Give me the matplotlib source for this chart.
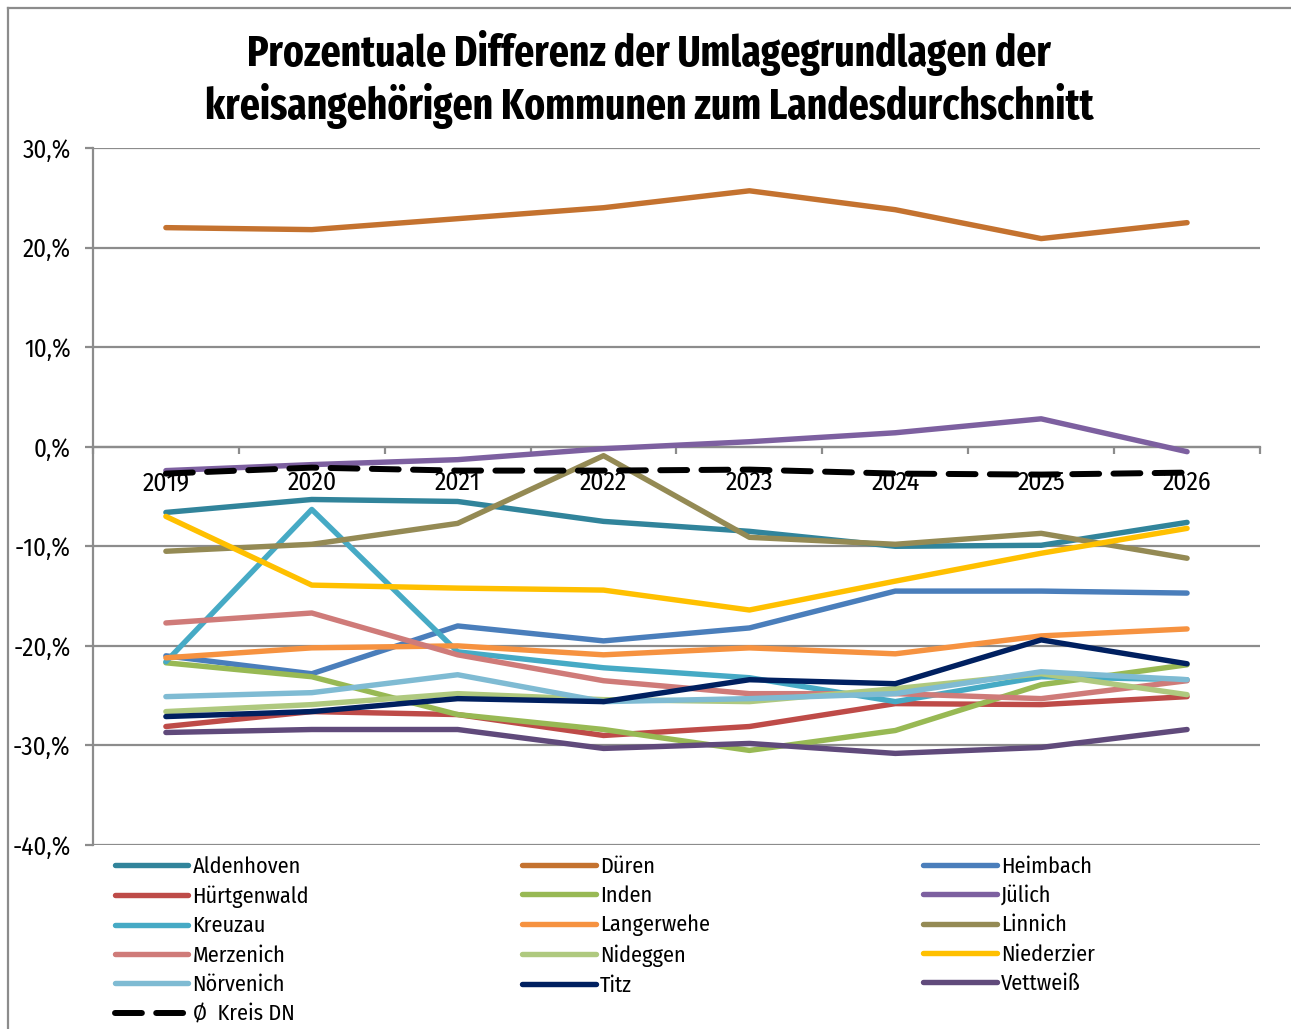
import numpy as np
import matplotlib
matplotlib.use("Agg")
import matplotlib.pyplot as plt
from matplotlib.lines import Line2D
from matplotlib.ticker import FuncFormatter
from matplotlib import font_manager as fm

# schmale Schrift suchen, sonst DejaVu
vorhanden = set(f.name for f in fm.fontManager.ttflist)
schrift = 'DejaVu Sans'
for kandidat in ['Fira Sans Condensed', 'Roboto Condensed', 'Archivo Narrow', 'Asap Condensed']:
    if kandidat in vorhanden:
        schrift = kandidat
        break
titelschrift = schrift
for kandidat in ['Fira Sans Extra Condensed', 'Fira Sans Condensed', 'Roboto Condensed']:
    if kandidat in vorhanden:
        titelschrift = kandidat
        break
plt.rcParams['font.family'] = [schrift, 'DejaVu Sans']

# Jahre
jahre = ['2019', '2020', '2021', '2022', '2023', '2024', '2025', '2026']

# Werte in Prozent
aldenhoven  = [-6.6, -5.3, -5.5, -7.5, -8.5, -10.0, -9.9, -7.6]
dueren      = [22.0, 21.8, 22.9, 24.0, 25.7, 23.8, 20.9, 22.5]
heimbach    = [-21.0, -22.8, -18.0, -19.5, -18.2, -14.5, -14.5, -14.7]
huertgenwald = [-28.1, -26.6, -26.9, -29.0, -28.1, -25.8, -25.9, -25.1]
inden       = [-21.7, -23.1, -26.9, -28.4, -30.5, -28.5, -23.9, -21.9]
juelich     = [-2.4, -1.8, -1.3, -0.2, 0.5, 1.4, 2.8, -0.5]
kreuzau     = [-21.6, -6.3, -20.6, -22.2, -23.2, -25.6, -23.1, -23.4]
langerwehe  = [-21.2, -20.2, -20.0, -20.9, -20.2, -20.8, -19.0, -18.3]
linnich     = [-10.5, -9.8, -7.7, -0.9, -9.1, -9.8, -8.7, -11.2]
merzenich   = [-17.7, -16.7, -20.9, -23.5, -24.8, -24.8, -25.3, -23.5]
nideggen    = [-26.6, -25.9, -24.8, -25.4, -25.6, -24.3, -22.8, -24.9]
niederzier  = [-7.0, -13.9, -14.2, -14.4, -16.4, -13.5, -10.7, -8.2]
noervenich  = [-25.1, -24.7, -22.9, -25.6, -25.3, -24.8, -22.6, -23.4]
titz        = [-27.1, -26.6, -25.3, -25.6, -23.4, -23.8, -19.4, -21.8]
vettweiss   = [-28.7, -28.4, -28.4, -30.3, -29.8, -30.8, -30.2, -28.4]
kreis_dn    = [-2.7, -2.1, -2.4, -2.4, -2.3, -2.7, -2.8, -2.6]

reihen = [
    ('Aldenhoven', aldenhoven, '#31849B'),
    ('Düren', dueren, '#C4722F'),
    ('Heimbach', heimbach, '#4A7EBB'),
    ('Hürtgenwald', huertgenwald, '#BE4B48'),
    ('Inden', inden, '#98B954'),
    ('Jülich', juelich, '#7D60A0'),
    ('Kreuzau', kreuzau, '#46AAC5'),
    ('Langerwehe', langerwehe, '#F69240'),
    ('Linnich', linnich, '#948A54'),
    ('Merzenich', merzenich, '#CF7B79'),
    ('Nideggen', nideggen, '#AFC97F'),
    ('Niederzier', niederzier, '#FFC000'),
    ('Nörvenich', noervenich, '#7FBBD3'),
    ('Titz', titz, '#002060'),
    ('Vettweiß', vettweiss, '#604A7B'),
]

fig = plt.figure(figsize=(12.91, 10.29), dpi=100)
ax = fig.add_axes([0.072, 0.1788, 0.904, 0.6774])

x = np.arange(len(jahre))
linien = {}
for name, werte, farbe in reihen:
    l, = ax.plot(x, werte, color=farbe, lw=3.9, solid_capstyle='round',
                 solid_joinstyle='round', zorder=3, label=name)
    linien[name] = l
l, = ax.plot(x, kreis_dn, color='black', lw=4.3, linestyle=(0, (4.5, 2.4)),
             dash_capstyle='round', zorder=3, label='Ø  Kreis DN')
linien['Ø  Kreis DN'] = l

ax.set_xlim(-0.5, 7.5)
ax.set_ylim(-40, 30)
ax.set_yticks(np.arange(-40, 31, 10))
ax.yaxis.set_major_formatter(FuncFormatter(lambda v, p: f"{int(round(v))},%"))
ax.grid(axis='y', color='#8C8C8C', lw=1.6)
ax.set_axisbelow(True)

for s in ['top', 'right']:
    ax.spines[s].set_visible(False)
ax.spines['left'].set_color('#8C8C8C')
ax.spines['left'].set_linewidth(1.6)
ax.spines['bottom'].set_position(('data', 0))
ax.spines['bottom'].set_color('#8C8C8C')
ax.spines['bottom'].set_linewidth(1.6)

ax.set_xticks(np.arange(-0.5, 8.0, 1.0))
ax.set_xticklabels([])
ax.set_xticks(x, minor=True)
ax.set_xticklabels(jahre, minor=True)
ax.tick_params(axis='x', which='major', direction='out', length=5, width=1.6, color='#8C8C8C')
ax.tick_params(axis='x', which='minor', length=0, pad=17, labelsize=18.5)
ax.tick_params(axis='y', direction='out', length=6, width=1.6, color='#8C8C8C', labelsize=18, pad=10)

fig.suptitle('Prozentuale Differenz der Umlagegrundlagen der\nkreisangehörigen Kommunen zum Landesdurchschnitt',
             x=0.503, y=0.971, fontsize=30.8, fontweight='bold', linespacing=1.2,
             family=[titelschrift, 'DejaVu Sans'])

# Legende zeilenweise wie im Original
reihenfolge = ['Aldenhoven', 'Hürtgenwald', 'Kreuzau', 'Merzenich', 'Nörvenich', 'Ø  Kreis DN',
               'Düren', 'Inden', 'Langerwehe', 'Nideggen', 'Titz',
               'Heimbach', 'Jülich', 'Linnich', 'Niederzier', 'Vettweiß']
leg = fig.legend([linien[n] for n in reihenfolge], reihenfolge, ncol=3,
                 loc='upper left', bbox_to_anchor=(0.082, 0.177), frameon=False,
                 fontsize=16, handlelength=3.3, handletextpad=0.2,
                 columnspacing=9.6, labelspacing=0.36, borderaxespad=0)

# Rahmen oben/links
fig.add_artist(Line2D([0.0062, 0.0062], [0, 0.9922], color='#8C8C8C', lw=1.6, transform=fig.transFigure))
fig.add_artist(Line2D([0.0062, 1.0], [0.9922, 0.9922], color='#8C8C8C', lw=1.6, transform=fig.transFigure))

fig.savefig('out.png', dpi=100)
